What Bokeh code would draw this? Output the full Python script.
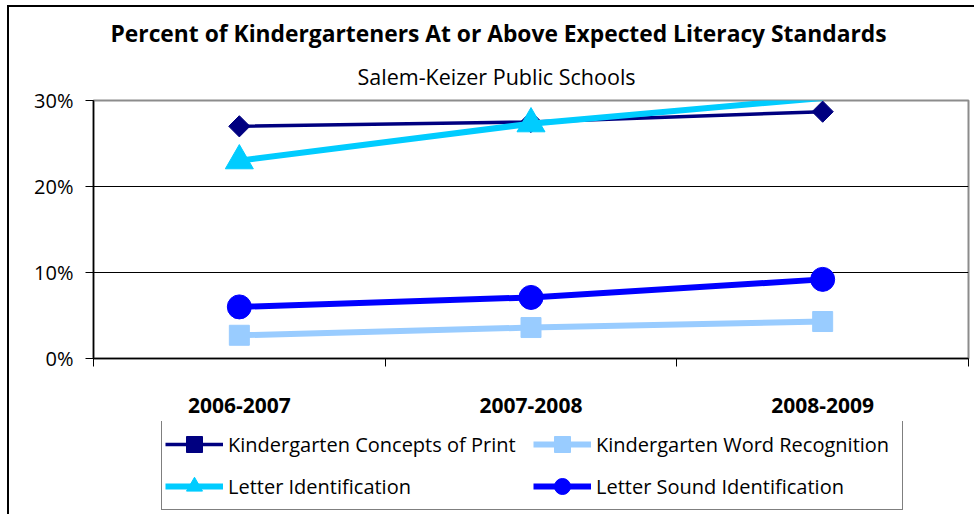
from bokeh.plotting import figure
from bokeh.layouts import column
from bokeh.models import (Legend, LegendItem, FixedTicker, Title, ColumnDataSource,
                          CDSView, BooleanFilter, PrintfTickFormatter, Range1d)
from bokeh.embed import file_html
from bokeh.resources import INLINE

# ---- data ----
years = ["2006-2007", "2007-2008", "2008-2009"]
concepts_of_print = [27.0, 27.5, 28.7]
word_recognition = [2.7, 3.6, 4.3]
letter_identification = [23.0, 27.3, 30.3]
letter_sound = [6.0, 7.1, 9.2]
y_ticks = [0, 10, 20, 30]
y_max = 30

title_text = "Percent of Kindergarteners At or Above Expected Literacy Standards"
subtitle_text = "Salem-Keizer Public Schools"

series = [
    ("Kindergarten Concepts of Print", concepts_of_print),
    ("Kindergarten Word Recognition", word_recognition),
    ("Letter Identification", letter_identification),
    ("Letter Sound Identification", letter_sound),
]

# ---- styles ----
FONT = "Open Sans"
styles = {
    "Kindergarten Concepts of Print": dict(color="#000080", lw=3.5, marker="square", size=15, angle=0.785398),
    "Kindergarten Word Recognition": dict(color="#99CCFF", lw=6, marker="square", size=20, angle=0.0),
    "Letter Identification": dict(color="#00CCFF", lw=6, marker="triangle", size=28, angle=0.0),
    "Letter Sound Identification": dict(color="#0000FF", lw=6, marker="circle", size=24, angle=0.0),
}

xs = [i + 0.5 for i in range(len(years))]

p = figure(width=965, height=414, output_backend="svg", toolbar_location=None,
           x_range=Range1d(0, len(years)), y_range=Range1d(0, y_max),
           min_border_left=84, min_border_right=6, min_border_top=93, min_border_bottom=63)
p.title.visible = False
p.background_fill_color = "white"
p.border_fill_color = "white"
p.outline_line_color = "#8c8c8c"
p.outline_line_width = 2

# x axis: labels at category centres, ticks at category boundaries
p.xaxis.ticker = FixedTicker(ticks=xs, minor_ticks=list(range(len(years) + 1)))
p.xaxis.major_label_overrides = {x: y for x, y in zip(xs, years)}
p.xaxis.major_tick_line_color = None
p.xaxis.major_tick_out = 0
p.xaxis.major_tick_in = 0
p.xaxis.minor_tick_line_color = "black"
p.xaxis.minor_tick_out = 8
p.xaxis.minor_tick_in = 0
p.xaxis.axis_line_color = "black"
p.xaxis.axis_line_width = 1.5
p.xaxis.major_label_text_font = FONT
p.xaxis.major_label_text_font_style = "bold"
p.xaxis.major_label_text_font_size = "21px"
p.xaxis.major_label_text_color = "black"
p.xaxis.major_label_standoff = 31

# y axis
p.yaxis.ticker = FixedTicker(ticks=y_ticks)
p.yaxis.formatter = PrintfTickFormatter(format="%d%%")
p.yaxis.major_tick_out = 8
p.yaxis.major_tick_in = 0
p.yaxis.minor_tick_line_color = None
p.yaxis.major_tick_line_color = "black"
p.yaxis.axis_line_color = "black"
p.yaxis.axis_line_width = 1.5
p.yaxis.major_label_text_font = FONT
p.yaxis.major_label_text_font_size = "20px"
p.yaxis.major_label_text_color = "black"
p.yaxis.major_label_standoff = 12

p.xgrid.visible = False
p.ygrid.ticker = FixedTicker(ticks=[t for t in y_ticks if 0 < t < y_max])
p.ygrid.grid_line_color = "black"
p.ygrid.grid_line_width = 1

# legend lives in its own strip under the chart (its glyph copies sit outside its ranges)
lg = figure(width=965, height=93, output_backend="svg", toolbar_location=None,
            x_axis_location=None, y_axis_location=None,
            min_border_left=0, min_border_right=0, min_border_top=0, min_border_bottom=0,
            x_range=Range1d(0, 1), y_range=Range1d(-2, -1))
lg.title.visible = False
lg.xgrid.visible = False
lg.ygrid.visible = False
lg.outline_line_color = None
lg.background_fill_color = "white"
lg.border_fill_color = "white"

items = []
for name, vals in series:
    st = styles[name]
    src = ColumnDataSource(dict(x=xs, y=vals))
    p.line("x", "y", source=src, line_color=st["color"], line_width=st["lw"])
    view = CDSView(filter=BooleanFilter([v <= y_max for v in vals]))
    p.scatter("x", "y", source=src, view=view, marker=st["marker"], size=st["size"],
              angle=st["angle"], fill_color=st["color"], line_color=st["color"])
    ln2 = lg.line("x", "y", source=src, line_color=st["color"], line_width=st["lw"])
    sc2 = lg.scatter("x", "y", source=src, marker=st["marker"], size=st["size"],
                     angle=st["angle"], fill_color=st["color"], line_color=st["color"])
    items.append(LegendItem(label=name, renderers=[ln2, sc2]))

legend = Legend(items=items, location=(68, 4), orientation="horizontal", ncols=2, nrows=2)
legend.label_text_font = FONT
legend.label_text_font_size = "20px"
legend.label_text_color = "black"
legend.glyph_width = 58
legend.glyph_height = 40
legend.label_height = 40
legend.label_width = 303
legend.label_standoff = 5
legend.spacing = 2
legend.padding = 3
legend.margin = 0
legend.border_line_color = "black"
legend.border_line_width = 1
legend.background_fill_color = "white"
legend.background_fill_alpha = 1
lg.add_layout(legend, "center")

p.add_layout(Title(text=subtitle_text, align="left", offset=264, standoff=19,
                   text_font=FONT, text_font_size="21.5px", text_font_style="normal",
                   text_color="black"), "above")
p.add_layout(Title(text=title_text, align="left", offset=17, standoff=4,
                   text_font=FONT, text_font_size="22.8px", text_font_style="bold",
                   text_color="black"), "above")

layout = column(p, lg, spacing=0,
                styles={"margin-left": "7px", "margin-top": "5px",
                        "border-left": "2px solid #000000", "border-top": "2px solid #000000"})

open("out.html", "w").write(file_html(layout, INLINE))
